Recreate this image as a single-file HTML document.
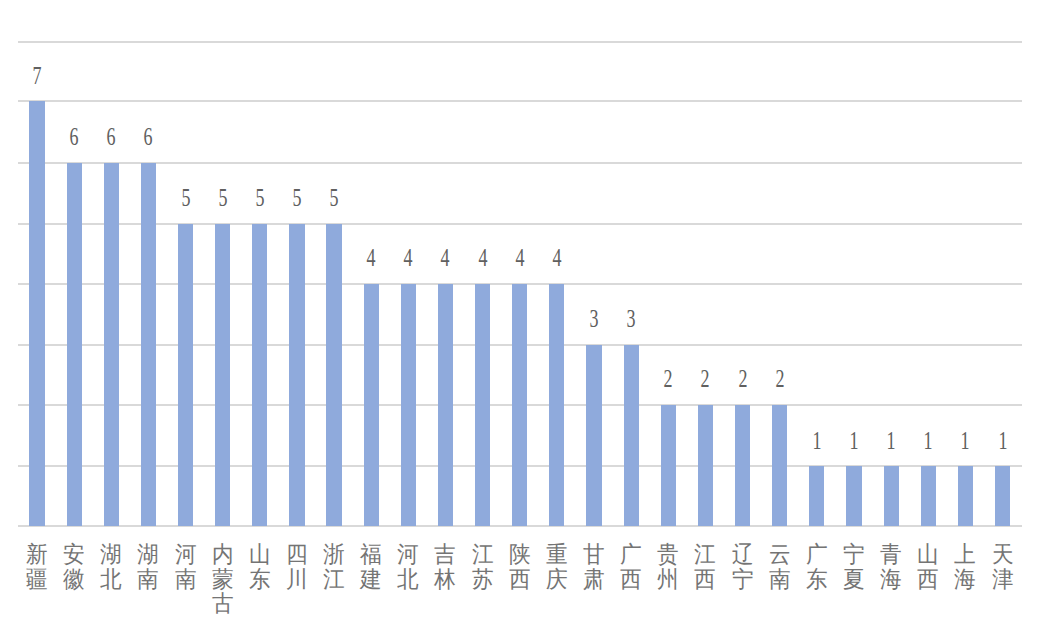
<!DOCTYPE html>
<html><head><meta charset="utf-8"><style>
html,body{margin:0;padding:0;background:#fff;}
body{width:1052px;height:637px;position:relative;overflow:hidden;font-family:"Liberation Sans",sans-serif;}
.g{position:absolute;height:2px;background:#d9d9d9;}
.b{position:absolute;background:#8faadc;}
.v{position:absolute;width:40px;text-align:center;font-family:"Liberation Serif",serif;font-size:25px;line-height:30px;height:30px;color:#606060;transform:scaleX(0.72);}
.l{position:absolute;width:40px;text-align:center;font-size:23px;line-height:24.6px;color:#747474;transform:scaleX(0.94);}
</style></head><body>

<div class="g" style="left:18.4px;top:40.5px;width:1004.0px"></div>
<div class="g" style="left:18.4px;top:100.3px;width:1004.0px"></div>
<div class="g" style="left:18.4px;top:161.7px;width:1004.0px"></div>
<div class="g" style="left:18.4px;top:222.8px;width:1004.0px"></div>
<div class="g" style="left:18.4px;top:282.6px;width:1004.0px"></div>
<div class="g" style="left:18.4px;top:343.9px;width:1004.0px"></div>
<div class="g" style="left:18.4px;top:403.7px;width:1004.0px"></div>
<div class="g" style="left:18.4px;top:465.0px;width:1004.0px"></div>
<div class="g" style="left:18.4px;top:525.2px;width:1004.0px"></div>
<div class="b" style="left:29.37px;top:101.30px;width:15.2px;height:424.90px"></div>
<div class="v" style="left:16.97px;top:60.80px">7</div>
<div class="l" style="left:16.97px;top:542px">新<br>疆</div>
<div class="b" style="left:66.51px;top:162.70px;width:15.2px;height:363.50px"></div>
<div class="v" style="left:54.11px;top:122.20px">6</div>
<div class="l" style="left:54.11px;top:542px">安<br>徽</div>
<div class="b" style="left:103.64px;top:162.70px;width:15.2px;height:363.50px"></div>
<div class="v" style="left:91.24px;top:122.20px">6</div>
<div class="l" style="left:91.24px;top:542px">湖<br>北</div>
<div class="b" style="left:140.78px;top:162.70px;width:15.2px;height:363.50px"></div>
<div class="v" style="left:128.38px;top:122.20px">6</div>
<div class="l" style="left:128.38px;top:542px">湖<br>南</div>
<div class="b" style="left:177.92px;top:223.80px;width:15.2px;height:302.40px"></div>
<div class="v" style="left:165.52px;top:183.30px">5</div>
<div class="l" style="left:165.52px;top:542px">河<br>南</div>
<div class="b" style="left:215.05px;top:223.80px;width:15.2px;height:302.40px"></div>
<div class="v" style="left:202.65px;top:183.30px">5</div>
<div class="l" style="left:202.65px;top:542px">内<br>蒙<br>古</div>
<div class="b" style="left:252.19px;top:223.80px;width:15.2px;height:302.40px"></div>
<div class="v" style="left:239.79px;top:183.30px">5</div>
<div class="l" style="left:239.79px;top:542px">山<br>东</div>
<div class="b" style="left:289.33px;top:223.80px;width:15.2px;height:302.40px"></div>
<div class="v" style="left:276.93px;top:183.30px">5</div>
<div class="l" style="left:276.93px;top:542px">四<br>川</div>
<div class="b" style="left:326.46px;top:223.80px;width:15.2px;height:302.40px"></div>
<div class="v" style="left:314.06px;top:183.30px">5</div>
<div class="l" style="left:314.06px;top:542px">浙<br>江</div>
<div class="b" style="left:363.60px;top:283.60px;width:15.2px;height:242.60px"></div>
<div class="v" style="left:351.20px;top:243.10px">4</div>
<div class="l" style="left:351.20px;top:542px">福<br>建</div>
<div class="b" style="left:400.74px;top:283.60px;width:15.2px;height:242.60px"></div>
<div class="v" style="left:388.34px;top:243.10px">4</div>
<div class="l" style="left:388.34px;top:542px">河<br>北</div>
<div class="b" style="left:437.88px;top:283.60px;width:15.2px;height:242.60px"></div>
<div class="v" style="left:425.48px;top:243.10px">4</div>
<div class="l" style="left:425.48px;top:542px">吉<br>林</div>
<div class="b" style="left:475.01px;top:283.60px;width:15.2px;height:242.60px"></div>
<div class="v" style="left:462.61px;top:243.10px">4</div>
<div class="l" style="left:462.61px;top:542px">江<br>苏</div>
<div class="b" style="left:512.15px;top:283.60px;width:15.2px;height:242.60px"></div>
<div class="v" style="left:499.75px;top:243.10px">4</div>
<div class="l" style="left:499.75px;top:542px">陕<br>西</div>
<div class="b" style="left:549.29px;top:283.60px;width:15.2px;height:242.60px"></div>
<div class="v" style="left:536.89px;top:243.10px">4</div>
<div class="l" style="left:536.89px;top:542px">重<br>庆</div>
<div class="b" style="left:586.42px;top:344.90px;width:15.2px;height:181.30px"></div>
<div class="v" style="left:574.02px;top:304.40px">3</div>
<div class="l" style="left:574.02px;top:542px">甘<br>肃</div>
<div class="b" style="left:623.56px;top:344.90px;width:15.2px;height:181.30px"></div>
<div class="v" style="left:611.16px;top:304.40px">3</div>
<div class="l" style="left:611.16px;top:542px">广<br>西</div>
<div class="b" style="left:660.70px;top:404.70px;width:15.2px;height:121.50px"></div>
<div class="v" style="left:648.30px;top:364.20px">2</div>
<div class="l" style="left:648.30px;top:542px">贵<br>州</div>
<div class="b" style="left:697.84px;top:404.70px;width:15.2px;height:121.50px"></div>
<div class="v" style="left:685.44px;top:364.20px">2</div>
<div class="l" style="left:685.44px;top:542px">江<br>西</div>
<div class="b" style="left:734.97px;top:404.70px;width:15.2px;height:121.50px"></div>
<div class="v" style="left:722.57px;top:364.20px">2</div>
<div class="l" style="left:722.57px;top:542px">辽<br>宁</div>
<div class="b" style="left:772.11px;top:404.70px;width:15.2px;height:121.50px"></div>
<div class="v" style="left:759.71px;top:364.20px">2</div>
<div class="l" style="left:759.71px;top:542px">云<br>南</div>
<div class="b" style="left:809.25px;top:466.00px;width:15.2px;height:60.20px"></div>
<div class="v" style="left:796.85px;top:425.50px">1</div>
<div class="l" style="left:796.85px;top:542px">广<br>东</div>
<div class="b" style="left:846.38px;top:466.00px;width:15.2px;height:60.20px"></div>
<div class="v" style="left:833.98px;top:425.50px">1</div>
<div class="l" style="left:833.98px;top:542px">宁<br>夏</div>
<div class="b" style="left:883.52px;top:466.00px;width:15.2px;height:60.20px"></div>
<div class="v" style="left:871.12px;top:425.50px">1</div>
<div class="l" style="left:871.12px;top:542px">青<br>海</div>
<div class="b" style="left:920.66px;top:466.00px;width:15.2px;height:60.20px"></div>
<div class="v" style="left:908.26px;top:425.50px">1</div>
<div class="l" style="left:908.26px;top:542px">山<br>西</div>
<div class="b" style="left:957.79px;top:466.00px;width:15.2px;height:60.20px"></div>
<div class="v" style="left:945.39px;top:425.50px">1</div>
<div class="l" style="left:945.39px;top:542px">上<br>海</div>
<div class="b" style="left:994.93px;top:466.00px;width:15.2px;height:60.20px"></div>
<div class="v" style="left:982.53px;top:425.50px">1</div>
<div class="l" style="left:982.53px;top:542px">天<br>津</div>
</body></html>
